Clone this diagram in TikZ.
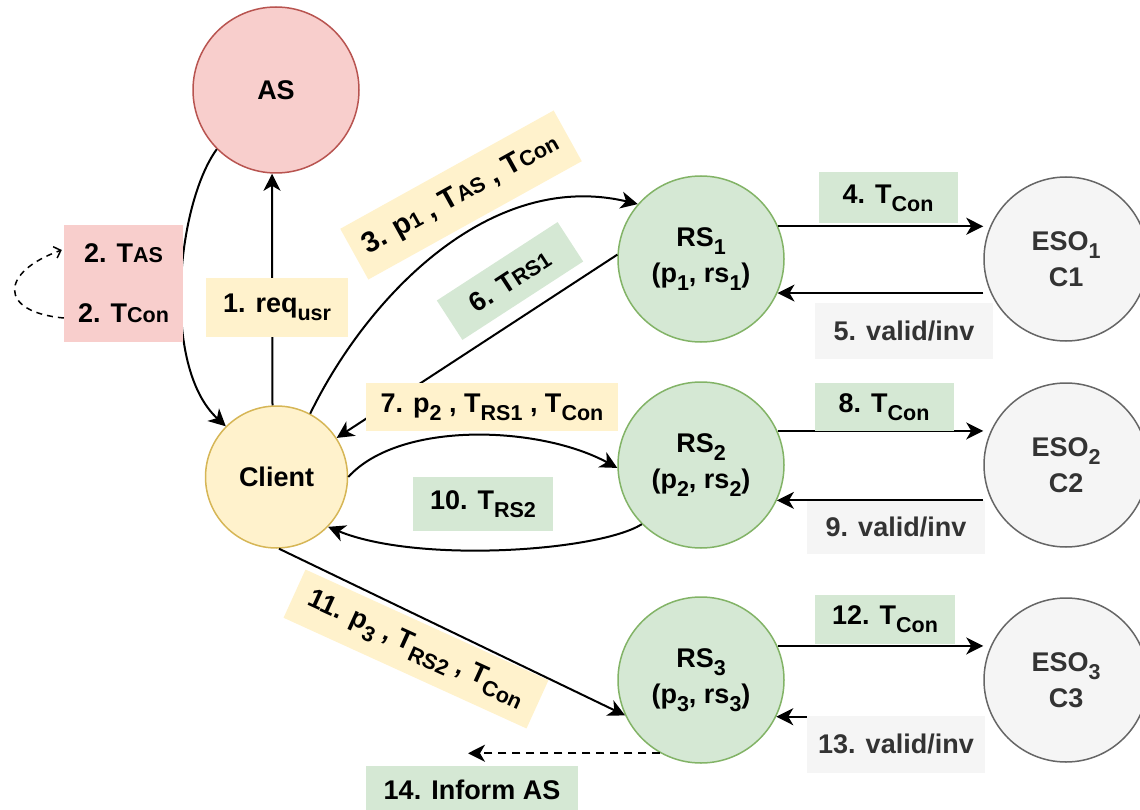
\documentclass[tikz,border=0pt]{standalone}
\usepackage{fontspec}
\setmainfont{Liberation Sans}
\usetikzlibrary{arrows.meta}

\definecolor{asfill}{HTML}{F8CECC}
\definecolor{asline}{HTML}{B85450}
\definecolor{clfill}{HTML}{FFF2CC}
\definecolor{clline}{HTML}{D6B656}
\definecolor{rsfill}{HTML}{D5E8D4}
\definecolor{rsline}{HTML}{82B366}
\definecolor{esofill}{HTML}{F5F5F5}
\definecolor{esoline}{HTML}{666666}
\definecolor{esotext}{HTML}{333333}

% lowered subscript and small inline letters
\newcommand\lsub[1]{\raisebox{-0.3em}{\fontsize{21.5}{21.5}\selectfont #1}}
\newcommand\lsm[1]{{\fontsize{21.5}{21.5}\selectfont #1}}

\begin{document}
\begin{tikzpicture}[x=1pt,y=-1pt,
  every node/.style={font=\fontsize{27}{36}\selectfont\bfseries},
  entity/.style={circle, line width=1.5pt, inner sep=0pt, align=center},
  asnode/.style={entity, draw=asline, fill=asfill, minimum size=166pt},
  clnode/.style={entity, draw=clline, fill=clfill, minimum size=142pt},
  rsnode/.style={entity, draw=rsline, fill=rsfill, minimum size=166pt},
  esonode/.style={entity, draw=esoline, fill=esofill, minimum size=164pt, text=esotext},
  tag/.style={inner sep=0pt, align=center, font=\fontsize{27}{30}\selectfont\bfseries},
  ytag/.style={tag, fill=clfill},
  gtag/.style={tag, fill=rsfill},
  ptag/.style={tag, fill=asfill},
  stag/.style={tag, fill=esofill, text=esotext},
  conn/.style={line width=2pt, -{Stealth[length=17pt,width=17pt,inset=5pt]}},
  dconn/.style={conn, dash pattern=on 8pt off 6pt},
]
\useasboundingbox (0,0) rectangle (1140,810);

% entities
\node[asnode]  (AS)     at (276,90)    {AS};
\node[clnode]  (Client) at (276.5,477) {Client};
\node[rsnode]  (RS1)    at (701,259)   {RS\lsub{1}\\(p\lsub{1}, rs\lsub{1})};
\node[rsnode]  (RS2)    at (701,465)   {RS\lsub{2}\\(p\lsub{2}, rs\lsub{2})};
\node[rsnode]  (RS3)    at (701,680)   {RS\lsub{3}\\(p\lsub{3}, rs\lsub{3})};
\node[esonode] (ESO1)   at (1066,259)  {ESO\lsub{1}\\C1};
\node[esonode] (ESO2)   at (1066,465)  {ESO\lsub{2}\\C2};
\node[esonode] (ESO3)   at (1066,680)  {ESO\lsub{3}\\C3};
\coordinate (inf) at (468,750);

% message flows
\draw[conn] ([xshift=-4pt]Client.north) -- ([xshift=-4pt]AS.south);
\draw[conn] (AS.225) .. controls +(-40,55) and +(-65,-60) .. (Client.135);
\draw[conn] (Client.62) .. controls +(57,-117) and +(-148,-35) .. (RS1.139);
\draw[conn] (RS1.23) -- (RS1.23 -| ESO1.west);
\draw[conn] (RS1.-24 -| ESO1.west) -- (RS1.-24);
\draw[conn] (RS1.177) -- (Client.33);
\draw[conn] (Client.east) .. controls +(52,-57) and +(-77,-42) .. (RS2.182);
\draw[conn] (RS2.24) -- (RS2.24 -| ESO2.west);
\draw[conn] (RS2.-25.5 -| ESO2.west) -- (RS2.-25.5);
\draw[conn] (RS2.225) .. controls +(-43,27) and +(90,37) .. (Client.316);
\draw[conn] (Client.272) -- (RS3.205);
\draw[conn] (RS3.24) -- (RS3.24 -| ESO3.west);
\draw[conn] (RS3.-26 -| ESO3.west) -- (RS3.-26);
\draw[dconn] (RS3.241) -- (RS3.241 -| inf);

% message labels
\node[ytag, minimum width=142pt, minimum height=59pt] (l1) at (277,307.5) {1. req\lsub{usr}};
\node[ptag, minimum width=119pt, minimum height=117pt,
      font=\fontsize{27}{60}\selectfont\bfseries] (l2) at (123.5,283.5)
      {2. T\lsm{AS}\\2. T\lsm{Con}};
\node[ytag, minimum width=244pt, minimum height=58pt, rotate=29,
      font=\fontsize{29}{30}\selectfont\bfseries] (l3) at (461,195)
      {3. p\lsm{1} , T\lsm{AS} , T\lsm{Con}};
\node[gtag, minimum width=139pt, minimum height=51pt] (l4) at (888,198) {4. T\lsub{Con}};
\node[stag, minimum width=178pt, minimum height=56pt] (l5) at (904,331) {5. valid/inv};
\node[gtag, minimum width=144pt, minimum height=47pt, rotate=33] (l6) at (510,281)
      {6. T\lsm{RS1}};
\node[ytag, minimum width=252pt, minimum height=48pt] (l7) at (492,407)
      {7. p\lsub{2} , T\lsub{RS1} , T\lsub{Con}};
\node[gtag, minimum width=139pt, minimum height=48pt] (l8) at (884,407) {8. T\lsub{Con}};
\node[stag, minimum width=178pt, minimum height=53pt] (l9) at (896,527) {9. valid/inv};
\node[gtag, minimum width=140pt, minimum height=54pt] (l10) at (483,504) {10. T\lsub{RS2}};
\node[ytag, minimum width=267pt, minimum height=53pt, rotate=-24.5] (l11) at (416,649)
      {11. p\lsub{3} , T\lsub{RS2} , T\lsub{Con}};
\node[gtag, minimum width=140pt, minimum height=49pt] (l12) at (885,619) {12. T\lsub{Con}};
\node[stag, minimum width=178pt, minimum height=57pt] (l13) at (896,744) {13. valid/inv};
\node[gtag, minimum width=212pt, minimum height=48pt] (l14) at (472,790) {14. Inform AS};

% token refresh loop
\draw[dash pattern=on 6pt off 5pt, line width=1.5pt, -{Straight Barb[length=6pt,width=12pt]}]
  ([yshift=-34.5pt]l2.west) .. controls +(-66,-6) and +(-62,22) .. ([xshift=-2pt,yshift=33.5pt]l2.west);
\end{tikzpicture}
\end{document}
